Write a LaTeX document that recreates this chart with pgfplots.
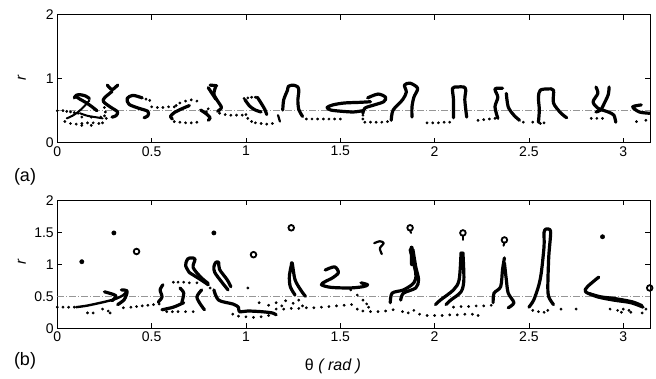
\documentclass[border=0pt]{standalone}
\usepackage{fontspec}
\setmainfont{Liberation Sans}
\usepackage{pgfplots}
\pgfplotsset{compat=1.18}
\definecolor{refgray}{RGB}{150,150,150}
\pgfplotsset{
  common/.style={
    scale only axis, width=592.7pt, height=128pt,
    xmin=0, xmax=3.14159, ymin=0, ymax=2,
    xtick={0,0.5,1,1.5,2,2.5,3},
    tick align=inside, major tick length=5pt,
    axis line style={black, line width=0.8pt},
    tick style={black, line width=0.6pt},
    ticklabel style={font=\fontsize{14}{16}\selectfont},
    /pgf/number format/assume math mode=true,
    clip=true,
  },
  dots/.style={only marks, mark=*, mark size=1.2pt, black, mark options={fill=black, draw=black}},
  stk/.style={black, line width=3.2pt, smooth, line cap=round, line join=round, mark=none},
  loopm/.style={only marks, mark=o, mark size=2.8pt, black, mark options={line width=1.8pt}},
  bigdot/.style={only marks, mark=*, mark size=2.2pt, black},
  ref/.style={refgray, line width=0.9pt, dash pattern=on 7pt off 2pt on 1pt off 2pt},
}
\begin{document}
\begin{tikzpicture}
\useasboundingbox (0,0) rectangle (656pt,379pt);
% ---------------- panel (a)
\begin{axis}[common, at={(57.3pt,236.3pt)}, anchor=south west,
  ytick={0,1,2},
  ylabel={\textit{r}}, ylabel style={at={(axis description cs:-0.06,0.51)}, anchor=center, font=\fontsize{15}{17}\selectfont}]
\addplot[ref] coordinates {(0,0.5) (3.1416,0.5)};
% A
\addplot[dots] coordinates {(0.00,0.50)(0.03,0.50)(0.05,0.49)(0.07,0.48)(0.09,0.47)(0.11,0.46)
 (0.04,0.33)(0.07,0.30)(0.10,0.29)(0.13,0.30)(0.16,0.31)(0.19,0.31)(0.22,0.30)(0.24,0.31)
 (0.13,0.40)(0.18,0.40)(0.13,0.27)(0.18,0.27)};
\addplot[stk] coordinates {(0.10,0.72)(0.12,0.68)(0.15,0.63)(0.18,0.57)(0.21,0.50)};
\addplot[stk] coordinates {(0.09,0.70)(0.10,0.74)(0.12,0.75)(0.15,0.73)(0.17,0.69)};
\addplot[stk, line width=2pt] coordinates {(0.17,0.66)(0.14,0.56)(0.11,0.48)(0.08,0.42)(0.05,0.38)};
\addplot[stk, line width=2pt] coordinates {(0.12,0.46)(0.16,0.42)(0.20,0.40)(0.24,0.38)};
% B
\addplot[stk] coordinates {(0.265,0.90)(0.29,0.83)(0.32,0.90)};
\addplot[stk] coordinates {(0.29,0.80)(0.25,0.70)(0.245,0.64)(0.28,0.56)(0.32,0.48)(0.31,0.42)(0.29,0.40)};
\addplot[dots] coordinates {(0.25,0.55)(0.255,0.48)(0.25,0.42)(0.23,0.40)(0.26,0.38)};
% C
\addplot[stk] coordinates {(0.45,0.70)(0.40,0.74)(0.37,0.69)(0.38,0.60)(0.43,0.54)(0.48,0.49)(0.48,0.42)(0.46,0.39)};
\addplot[dots] coordinates {(0.47,0.68)(0.49,0.66)(0.50,0.56)(0.53,0.55)(0.56,0.55)(0.59,0.56)(0.62,0.56)};
% D
\addplot[dots] coordinates {(0.63,0.58)(0.65,0.62)(0.68,0.65)(0.71,0.67)(0.74,0.65)
 (0.62,0.33)(0.65,0.32)(0.68,0.31)(0.71,0.31)(0.74,0.32)};
\addplot[stk] coordinates {(0.70,0.58)(0.66,0.53)(0.62,0.47)(0.60,0.41)(0.61,0.37)};
\addplot[stk] coordinates {(0.76,0.51)(0.79,0.45)(0.81,0.39)(0.80,0.35)};
% E
\addplot[stk] coordinates {(0.81,0.90)(0.845,0.89)};
\addplot[stk] coordinates {(0.84,0.88)(0.83,0.76)(0.85,0.65)(0.87,0.55)(0.85,0.49)};
\addplot[stk] coordinates {(0.80,0.86)(0.82,0.77)(0.84,0.68)};
\addplot[dots] coordinates {(0.86,0.46)(0.89,0.44)(0.92,0.43)(0.95,0.43)(0.98,0.43)(1.00,0.44)(0.79,0.48)(0.80,0.53)};
% F
\addplot[dots] coordinates {(0.99,0.69)(1.01,0.70)(1.03,0.71)(1.05,0.71)
 (1.01,0.38)(1.03,0.33)(1.05,0.31)(1.08,0.30)(1.11,0.29)(1.14,0.30)};
\addplot[stk] coordinates {(1.06,0.71)(1.08,0.62)(1.10,0.52)(1.11,0.44)};
\addplot[stk] coordinates {(0.995,0.67)(1.02,0.57)(1.05,0.51)(1.08,0.48)};
\addplot[stk, line width=2.2pt] coordinates {(1.17,0.43)(1.175,0.38)(1.18,0.33)};
% G
\addplot[stk] coordinates {(1.195,0.51)(1.20,0.67)(1.22,0.82)(1.225,0.88)(1.25,0.90)(1.275,0.87)(1.28,0.80)(1.275,0.67)(1.28,0.52)(1.30,0.41)};
\addplot[dots] coordinates {(1.32,0.37)(1.35,0.37)(1.38,0.37)(1.41,0.37)(1.44,0.37)(1.47,0.37)(1.50,0.37)};
% H
\addplot[stk] coordinates {(1.66,0.64)(1.60,0.63)(1.52,0.62)(1.46,0.59)(1.43,0.55)(1.45,0.51)(1.51,0.49)(1.57,0.48)(1.62,0.50)};
\addplot[stk] coordinates {(1.62,0.46)(1.63,0.54)(1.68,0.59)(1.73,0.64)(1.74,0.71)(1.70,0.76)(1.645,0.70)};
\addplot[dots] coordinates {(1.62,0.43)(1.62,0.37)(1.63,0.32)(1.66,0.32)(1.69,0.32)(1.72,0.32)(1.75,0.33)};
% I
\addplot[stk] coordinates {(1.77,0.35)(1.78,0.51)(1.83,0.67)(1.85,0.79)(1.84,0.90)(1.87,0.93)(1.91,0.85)(1.89,0.71)(1.88,0.56)(1.88,0.40)};
% J
\addplot[dots] coordinates {(1.96,0.31)(1.99,0.31)(2.02,0.31)(2.05,0.32)(2.08,0.32)};
\addplot[stk] coordinates {(2.10,0.39)(2.10,0.67)(2.095,0.85)(2.12,0.87)(2.155,0.87)(2.165,0.82)(2.16,0.67)(2.17,0.40)};
% K
\addplot[dots] coordinates {(2.23,0.35)(2.26,0.36)(2.29,0.37)(2.32,0.38)(2.47,0.32)(2.52,0.32)};
\addplot[stk] coordinates {(2.335,0.38)(2.32,0.56)(2.335,0.71)(2.32,0.84)(2.36,0.85)};
\addplot[stk] coordinates {(2.38,0.77)(2.39,0.56)(2.42,0.43)(2.45,0.35)};
% L
\addplot[stk] coordinates {(2.55,0.32)(2.555,0.51)(2.55,0.71)(2.56,0.82)(2.60,0.84)(2.63,0.82)(2.63,0.62)(2.67,0.46)(2.70,0.39)};
\addplot[dots] coordinates {(2.56,0.30)(2.58,0.31)};
% M
\addplot[stk] coordinates {(2.855,0.87)(2.865,0.77)(2.84,0.64)(2.865,0.54)(2.92,0.48)(2.95,0.43)(2.96,0.32)};
\addplot[stk] coordinates {(2.925,0.87)(2.92,0.75)(2.90,0.62)(2.88,0.51)(2.855,0.48)};
\addplot[dots] coordinates {(2.83,0.38)(2.86,0.38)(2.89,0.38)};
% N
\addplot[stk] coordinates {(3.095,0.59)(3.05,0.56)(3.085,0.48)(3.14,0.46)};
\addplot[dots] coordinates {(3.07,0.33)(3.12,0.35)};
\end{axis}
% ---------------- panel (b)
\begin{axis}[common, at={(57.3pt,50.7pt)}, anchor=south west,
  ytick={0,0.5,1,1.5,2},
  ylabel={\textit{r}}, ylabel style={at={(axis description cs:-0.06,0.52)}, anchor=center, font=\fontsize{15}{17}\selectfont}]
\addplot[ref] coordinates {(0,0.5) (3.1416,0.5)};
\addplot[bigdot] coordinates {(0.13,1.04)(0.30,1.49)(0.83,1.49)(2.89,1.43)};
\addplot[dots] coordinates {(1.01,0.63)};
\addplot[loopm] coordinates {(0.42,1.20)(1.04,1.15)(1.24,1.57)(1.87,1.57)(2.15,1.49)(2.37,1.38)(3.14,0.63)};
\addplot[stk, line width=2.2pt] coordinates {(1.68,1.33)(1.71,1.36)(1.73,1.33)(1.71,1.25)(1.72,1.16)};
\addplot[stk, line width=2pt] coordinates {(1.87,1.53)(1.875,1.49)};
\addplot[stk, line width=2pt] coordinates {(2.15,1.45)(2.15,1.38)};
\addplot[stk, line width=2pt] coordinates {(2.37,1.34)(2.365,1.29)};
% b1
\addplot[dots] coordinates {(0.00,0.33)(0.03,0.33)(0.06,0.33)(0.09,0.33)(0.16,0.24)(0.19,0.24)(0.27,0.27)(0.28,0.24)(0.24,0.30)
 (0.35,0.32)(0.39,0.33)(0.42,0.34)(0.45,0.35)(0.48,0.36)(0.51,0.37)(0.54,0.38)};
\addplot[stk, line width=2.4pt] coordinates {(0.10,0.33)(0.15,0.35)(0.20,0.38)(0.26,0.42)(0.31,0.46)(0.35,0.52)(0.37,0.59)};
\addplot[stk] coordinates {(0.25,0.57)(0.31,0.51)(0.29,0.43)};
\addplot[stk] coordinates {(0.34,0.60)(0.37,0.58)(0.355,0.45)(0.32,0.37)};
% b2
\addplot[stk] coordinates {(0.56,0.68)(0.545,0.60)(0.555,0.49)(0.535,0.41)};
\addplot[stk] coordinates {(0.555,0.29)(0.615,0.33)(0.67,0.40)};
\addplot[dots] coordinates {(0.58,0.26)(0.61,0.26)(0.64,0.26)(0.68,0.26)(0.72,0.26)};
% b3
\addplot[dots] coordinates {(0.615,0.72)(0.64,0.72)(0.67,0.72)(0.70,0.71)(0.74,0.71)(0.81,0.63)};
\addplot[stk] coordinates {(0.65,0.63)(0.67,0.55)(0.66,0.40)};
% b4
\addplot[stk] coordinates {(0.70,0.87)(0.68,0.98)(0.69,1.08)(0.71,1.10)(0.73,1.08)(0.72,0.95)(0.76,0.80)(0.80,0.70)};
\addplot[stk] coordinates {(0.70,0.87)(0.76,0.76)(0.80,0.68)};
\addplot[stk] coordinates {(0.765,0.60)(0.74,0.49)(0.76,0.37)(0.78,0.29)};
% b5
\addplot[stk] coordinates {(0.905,0.60)(0.875,0.71)(0.835,0.87)(0.83,0.96)(0.84,1.03)(0.855,1.03)(0.86,0.92)(0.90,0.76)(0.92,0.65)};
% b6
\addplot[stk] coordinates {(0.83,0.60)(0.855,0.44)(0.93,0.38)(0.96,0.33)(0.965,0.26)(1.01,0.27)(1.08,0.26)(1.14,0.24)(1.16,0.21)};
\addplot[dots] coordinates {(0.93,0.22)(0.96,0.19)(1.0,0.18)(1.04,0.17)(1.08,0.18)(1.12,0.20)
 (1.07,0.40)(1.12,0.36)(1.16,0.40)(1.19,0.35)(1.21,0.43)(1.25,0.39)(1.28,0.44)(1.30,0.35)
 (1.16,0.30)(1.20,0.30)(1.24,0.31)(1.28,0.31)(1.32,0.32)(1.36,0.32)(1.40,0.33)(1.44,0.34)(1.48,0.35)(1.52,0.36)(1.56,0.37)};
% b7
\addplot[stk] coordinates {(1.26,0.52)(1.235,0.65)(1.23,0.81)(1.24,0.98)(1.245,1.02)(1.26,0.76)(1.29,0.60)(1.315,0.50)};
% b8
\addplot[stk] coordinates {(1.42,0.91)(1.47,0.96)(1.49,0.87)(1.46,0.79)(1.42,0.73)(1.40,0.68)(1.45,0.64)(1.55,0.63)(1.62,0.65)(1.645,0.68)(1.61,0.71)};
\addplot[dots] coordinates {(1.555,0.60)(1.59,0.52)(1.62,0.44)(1.64,0.38)(1.65,0.33)
 (1.59,0.30)(1.62,0.27)(1.66,0.26)(1.70,0.26)(1.74,0.27)(1.78,0.29)};
% b9
\addplot[stk] coordinates {(1.765,0.40)(1.775,0.55)(1.835,0.60)(1.89,0.71)(1.90,0.86)(1.87,1.23)};
\addplot[stk] coordinates {(1.82,0.44)(1.835,0.55)(1.90,0.63)(1.915,0.76)(1.90,0.96)(1.885,1.23)};
\addplot[stk, line width=4pt] coordinates {(1.88,1.0)(1.878,1.26)};
\addplot[dots] coordinates {(1.83,0.26)(1.86,0.24)(1.89,0.28)(1.92,0.22)(1.96,0.20)(2.0,0.20)(2.04,0.20)(2.08,0.21)(2.12,0.21)(2.16,0.22)(2.20,0.22)(2.23,0.20)};
% b10
\addplot[stk] coordinates {(2.005,0.37)(2.03,0.44)(2.10,0.60)(2.13,0.76)(2.14,1.18)};
\addplot[stk] coordinates {(2.06,0.37)(2.085,0.44)(2.14,0.57)(2.155,0.76)(2.15,1.18)};
\addplot[dots] coordinates {(2.10,0.33)(2.14,0.34)(2.18,0.34)(2.22,0.35)(2.26,0.35)(2.30,0.36)};
% b11
\addplot[stk] coordinates {(2.31,0.40)(2.315,0.55)(2.35,0.65)(2.36,0.92)(2.37,1.10)};
\addplot[stk] coordinates {(2.37,1.02)(2.38,0.76)(2.39,0.55)(2.42,0.40)(2.39,0.32)};
% b12
\addplot[stk] coordinates {(2.50,0.33)(2.525,0.44)(2.55,0.65)(2.565,0.86)(2.58,1.28)(2.58,1.50)(2.59,1.55)(2.605,1.55)(2.615,1.49)(2.605,1.12)(2.60,0.65)(2.605,0.49)(2.63,0.37)};
\addplot[dots] coordinates {(2.52,0.28)(2.55,0.26)(2.58,0.25)(2.60,0.28)(2.67,0.30)(2.75,0.30)};
% b13
\addplot[stk] coordinates {(2.87,0.80)(2.81,0.65)(2.80,0.57)(2.865,0.49)(2.95,0.44)(3.04,0.40)(3.105,0.33)};
\addplot[stk, line width=2.2pt] coordinates {(2.82,0.55)(2.88,0.50)(2.96,0.47)(3.05,0.42)(3.10,0.36)};
\addplot[dots] coordinates {(2.93,0.30)(2.97,0.28)(3.00,0.30)(3.03,0.28)(2.99,0.25)(3.04,0.25)(3.10,0.24)(3.12,0.30)};
\end{axis}
\node[font=\fontsize{18}{20}\selectfont] at (25pt,202pt) {(a)};
\node[font=\fontsize{18}{20}\selectfont] at (25pt,18pt) {(b)};
\node[font=\fontsize{16}{18}\selectfont] at (333pt,13pt) {θ \textit{( rad )}};
\end{tikzpicture}
\end{document}
